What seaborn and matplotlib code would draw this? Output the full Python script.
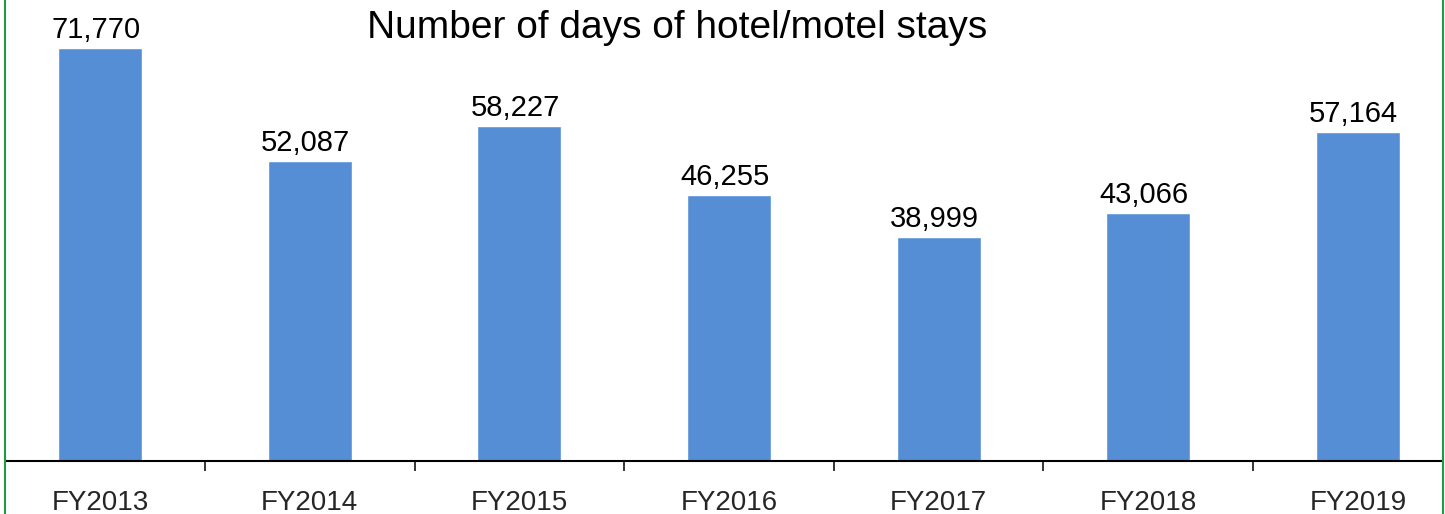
import matplotlib
matplotlib.use('Agg')
import matplotlib.pyplot as plt
import seaborn as sns
import pandas as pd

years = ['FY2013', 'FY2014', 'FY2015', 'FY2016', 'FY2017', 'FY2018', 'FY2019']
days = [71770, 52087, 58227, 46255, 38999, 43066, 57164]

df = pd.DataFrame({'year': years, 'days': days})

sns.set_style('white')
plt.rcParams['font.family'] = ['Liberation Sans', 'DejaVu Sans']

fig = plt.figure(figsize=(14.45, 5.14), dpi=100)
W, H = 1445, 514
# axes runs a bit past the figure edge, like the cropped original
ax = fig.add_axes([-4.8 / W, (H - 461) / H, 1467.6 / W, 461 / H])
sns.barplot(data=df, x='year', y='days', color='#558ED5', saturation=1,
            width=0.4, ax=ax)
ax.set_xlim(-0.5, 6.5)
ax.set_ylim(0, 80100)
ax.set_xlabel('')
ax.set_ylabel('')
ax.set_yticks([])
for s in ['top', 'right', 'left']:
    ax.spines[s].set_visible(False)
ax.spines['bottom'].set_linewidth(1.5)
ax.spines['bottom'].set_color('#000000')
ax.spines['bottom'].set_bounds(-0.45, 6.40)
ax.set_xticks(range(7))
ax.set_xticklabels(years, fontsize=20)
ax.tick_params(axis='x', which='major', bottom=True, length=0, pad=21)
# small ticks between the categories
ax.set_xticks([i + 0.5 for i in range(0, 6)], minor=True)
ax.tick_params(axis='x', which='minor', bottom=True, length=7.2, width=1.1,
               color='#000000', direction='out')

for i, v in enumerate(days):
    ax.annotate(f'{v:,}', (i - 0.02, v), xytext=(0, 7.2), textcoords='offset points',
                ha='center', va='baseline', fontsize=21, color='#000000')

fig.text(677 / W, 1 - 38 / H, 'Number of days of hotel/motel stays', ha='center', va='baseline',
         fontsize=28, color='#000000')

# green chart-area border
for xb in [4.5, 1443]:
    fig.add_artist(plt.Line2D([xb / W, xb / W], [0, 1], transform=fig.transFigure,
                              color='#1f9a48', lw=1.5))

fig.savefig('out.png', dpi=100)
